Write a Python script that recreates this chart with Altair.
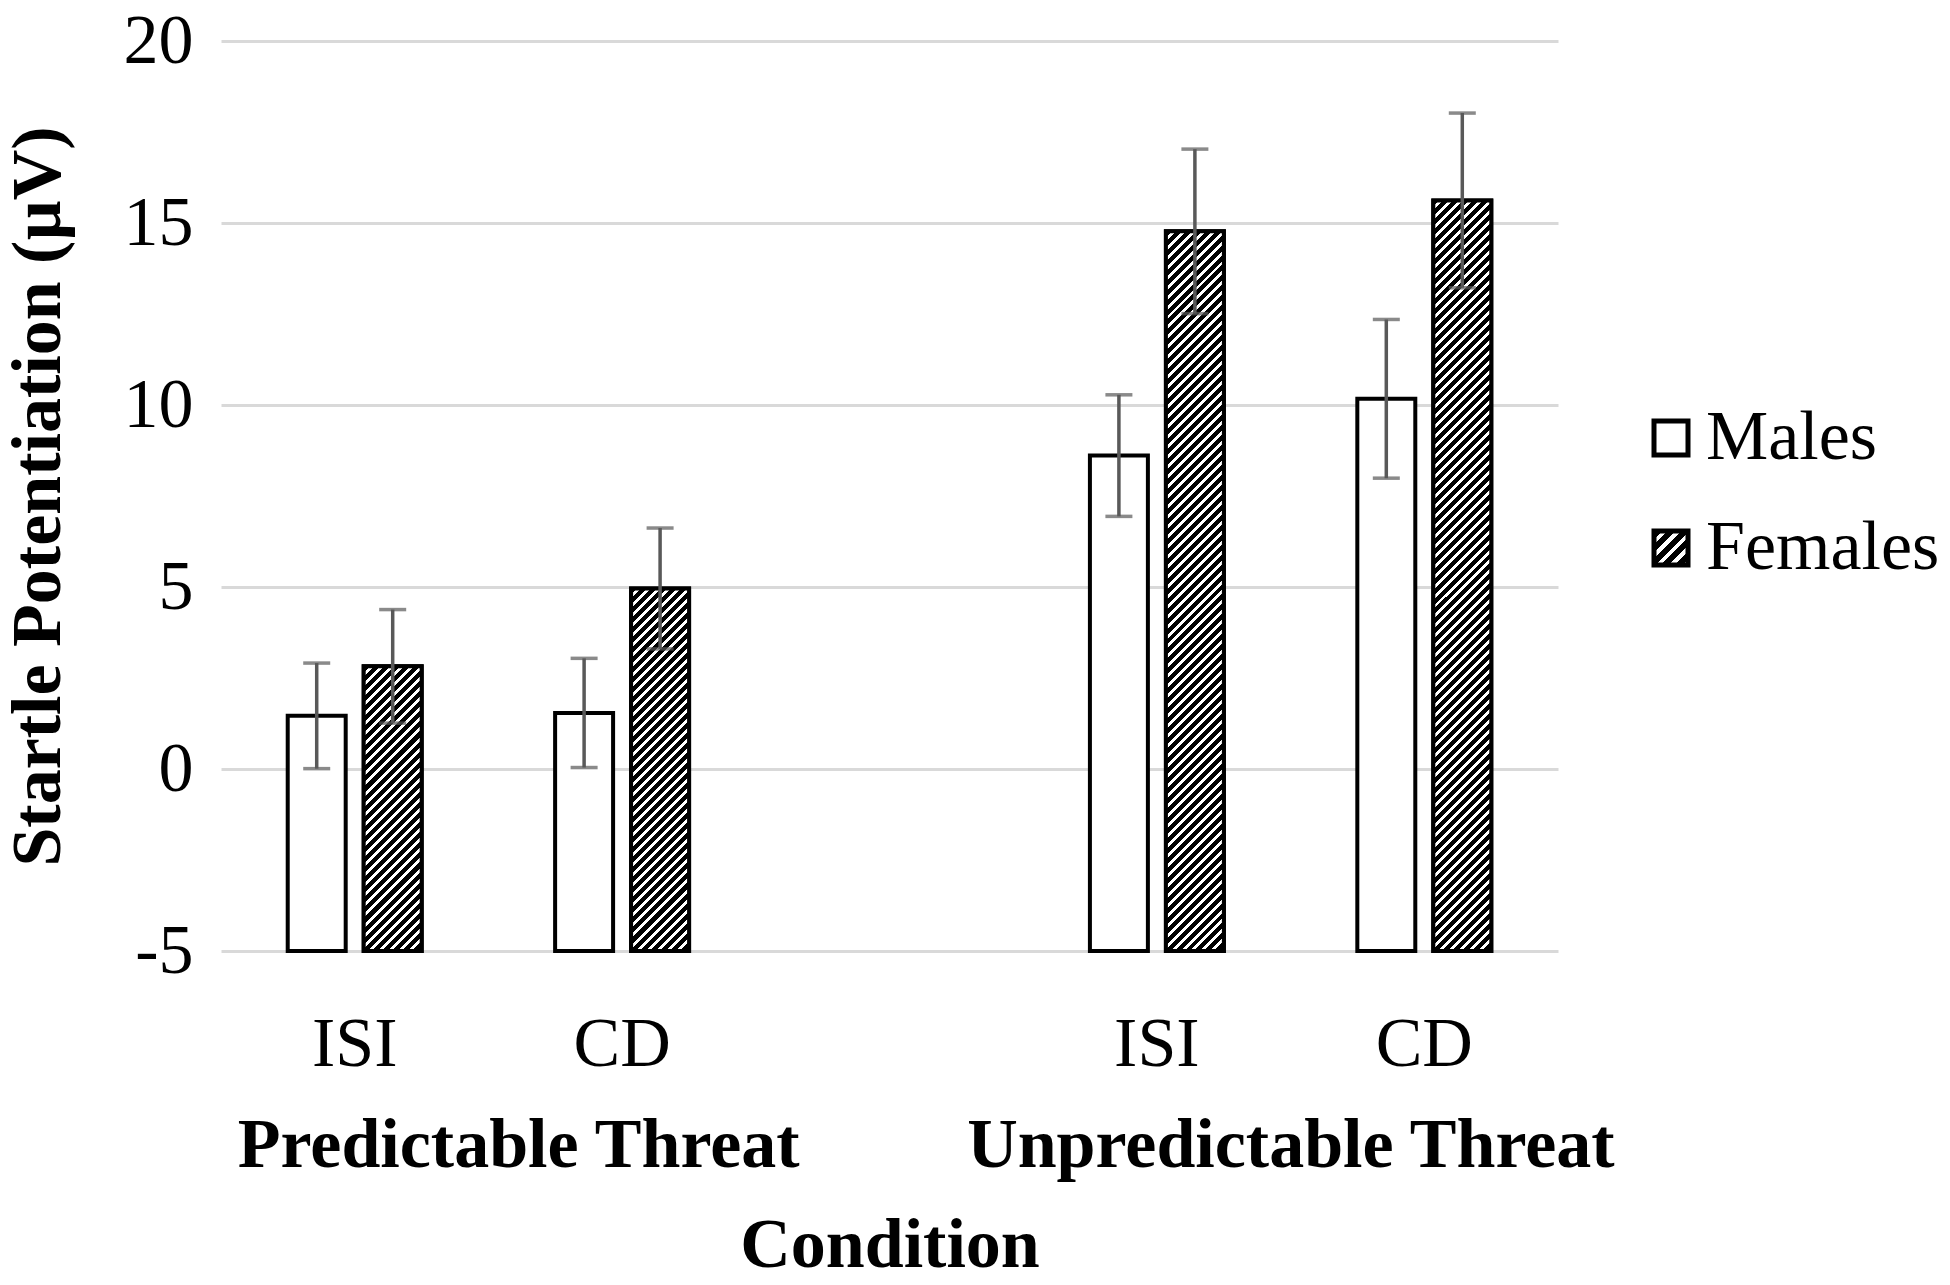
import json
import altair as alt
import pandas as pd

# ---------------- data ----------------
conditions = ["Predictable Threat", "Predictable Threat", "Unpredictable Threat", "Unpredictable Threat"]
phases = ["ISI", "CD", "ISI", "CD"]
sexes = ["Males", "Females"]
males = [1.46, 1.54, 8.61, 10.17]
males_err = [1.45, 1.50, 1.67, 2.18]
females = [2.82, 4.96, 14.77, 15.62]
females_err = [1.56, 1.66, 2.26, 2.40]
y_ticks = [-5, 0, 5, 10, 15, 20]
group_labels = ["Predictable Threat", "Unpredictable Threat"]

cat_keys = [f"{c}|{p}" for c, p in zip(conditions, phases)]
x_domain = cat_keys[:2] + ["gap"] + cat_keys[2:]

rows = []
for i, k in enumerate(cat_keys):
    for s, vals, errs in (("Males", males, males_err), ("Females", females, females_err)):
        v, e = vals[i], errs[i]
        rows.append(dict(cat=k, sex=s, value=v, err=e, lo=v - e, hi=v + e))
df = pd.DataFrame(rows)

# ---------------- layout / style ----------------
W, H = 1337, 910
YMIN, YMAX = -5, 20
FONT = "Liberation Serif"
FS = 70
X_PAD_INNER = 0.499
OFF_PAD = 0.237
step = W / len(x_domain)
bandw = step * (1 - X_PAD_INNER)
off_step = bandw / (2 - OFF_PAD)
bar_w = off_step * (1 - OFF_PAD)
px_per_unit = H / (YMAX - YMIN)


def hatch(w, h, period=10.0, frac=0.6):
    n = max(1, round((w + h) / period))
    stops = []
    for i in range(n):
        a = round(i / n, 5)
        b = round((i + frac) / n, 5)
        c = round(min(1.0, (i + 1) / n), 5)
        stops += [
            {"offset": a, "color": "black"},
            {"offset": b, "color": "black"},
            {"offset": b, "color": "white"},
            {"offset": c, "color": "white"},
        ]
    k = (w + h) / (w * w + h * h)
    return {"gradient": "linear", "x1": 0, "y1": 0,
            "x2": round(k * w, 5), "y2": round(k * h, 5), "stops": stops}


legend_grad = hatch(34, 34, period=13.0, frac=0.6)
legend_expr = json.dumps(legend_grad)

x_enc = alt.X(
    "cat:N",
    scale=alt.Scale(domain=x_domain, paddingInner=X_PAD_INNER, paddingOuter=X_PAD_INNER / 2),
    axis=alt.Axis(
        title="Condition",
        labelExpr="indexof(datum.label, '|') >= 0 ? split(datum.label, '|')[1] : ''",
        labelAngle=0, labelFont=FONT, labelFontSize=FS, labelColor="black",
        labelPadding=114, labelBaseline="alphabetic", labelOverlap=False,
        domain=False, ticks=False, tickSize=0, grid=False,
        titleFont=FONT, titleFontSize=FS, titleFontWeight="bold", titleColor="black",
        titleY=315, titleBaseline="alphabetic",
    ),
)


def y_enc(field):
    return alt.Y(
        f"{field}:Q",
        scale=alt.Scale(domain=[YMIN, YMAX], nice=False, zero=False),
        axis=alt.Axis(
            values=y_ticks, title="Startle Potentiation (µV)",
            labelExpr="'' + datum.value",
            labelFont=FONT, labelFontSize=FS, labelColor="black", labelPadding=28,
            grid=True, gridColor="#d9d9d9", gridWidth=3,
            domain=False, ticks=False, tickSize=0,
            titleFont=FONT, titleFontSize=FS, titleFontWeight="bold", titleColor="black",
            titleX=-162, titleY=H / 2, titleAngle=270, titleBaseline="alphabetic",
            titleAlign="center",
        ),
    )


xoff_enc = alt.XOffset("sex:N", scale=alt.Scale(domain=sexes, paddingInner=OFF_PAD, paddingOuter=0))

base = alt.Chart(df)

bars = base.mark_bar(stroke="black", strokeWidth=4).encode(
    x=x_enc,
    xOffset=xoff_enc,
    y=y_enc("value"),
    y2=alt.datum(YMIN),
    fill=alt.Fill(
        "sex:N",
        scale=alt.Scale(domain=sexes, range=["white", {"expr": legend_expr}]),
        legend=alt.Legend(
            title=None, orient="none", legendX=1415, legendY=362,
            symbolType="square", symbolSize=1156, symbolStrokeColor="black",
            symbolStrokeWidth=5, labelFont=FONT, labelFontSize=FS, labelColor="black",
            labelOffset=0, labelLimit=600, rowPadding=40, padding=0,
        ),
    ),
)

layers = [bars]
for i, k in enumerate(cat_keys):
    h = (females[i] - YMIN) * px_per_unit
    grad = hatch(bar_w, h)
    layers.append(
        base.transform_filter(
            (alt.datum.cat == k) & (alt.datum.sex == "Females")
        ).mark_bar(stroke="black", strokeWidth=4).encode(
            x=x_enc, xOffset=xoff_enc, y=y_enc("value"), y2=alt.datum(YMIN),
            fill=alt.value(grad),
        )
    )

err_color = "#595959"
rules = base.mark_rule(color=err_color, strokeWidth=3.5).encode(
    x=x_enc, xOffset=xoff_enc, y=y_enc("lo"), y2="hi:Q"
)
cap_hi = base.mark_tick(color=err_color, thickness=3.5, size=27, orient="horizontal").encode(
    x=x_enc, xOffset=xoff_enc, y=y_enc("hi")
)
cap_lo = base.mark_tick(color=err_color, thickness=3.5, size=27, orient="horizontal").encode(
    x=x_enc, xOffset=xoff_enc, y=y_enc("lo")
)
layers += [rules, cap_hi, cap_lo]

grp_df = pd.DataFrame({"label": group_labels, "cat": [cat_keys[0], cat_keys[2]]})
for lbl, dx in zip(group_labels, [164, 134]):
    layers.append(
        alt.Chart(grp_df).transform_filter(alt.datum.label == lbl).mark_text(
            font=FONT, fontSize=FS, fontWeight="bold", color="black",
            baseline="alphabetic", align="center", dx=dx,
        ).encode(x=x_enc, y=alt.value(1126), text="label:N")
    )

chart = alt.layer(*layers).properties(
    width=W, height=H,
    autosize=alt.AutoSizeParams(type="none"),
    padding={"left": 213, "top": 33, "right": 384, "bottom": 326},
    background="white",
).configure_view(strokeWidth=0)

chart.save("out.html", embed_options={"renderer": "svg", "actions": False})
